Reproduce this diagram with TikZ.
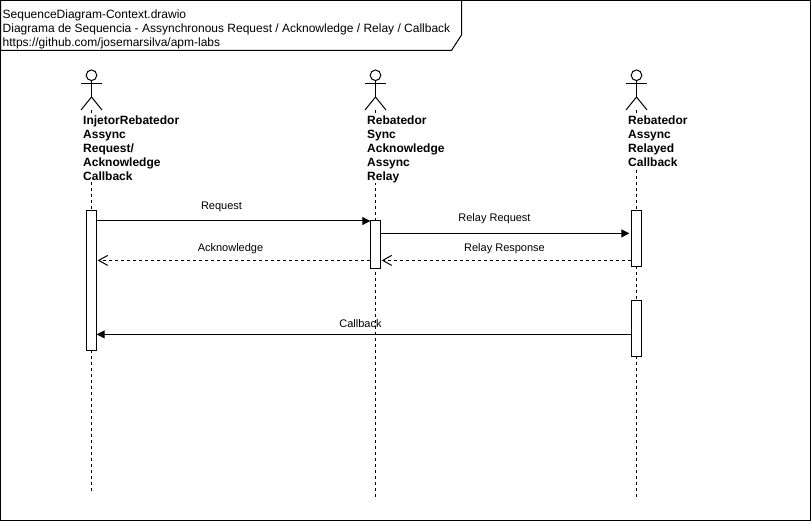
\documentclass[tikz,border=0pt]{standalone}
\usepackage{fontspec}
\setmainfont{Liberation Sans}
\usetikzlibrary{arrows.meta}
\tikzset{
  x=1pt,y=-1pt,
  line/.style={draw=black,line width=1pt},
  activation/.style={draw=black,fill=white,line width=1pt,minimum width=10.4pt,inner sep=0pt,outer sep=0pt,anchor=north},
  lifeline/.style={draw=black,line width=1pt,dash pattern=on 3pt off 3pt},
  sync/.style={draw=black,line width=1pt,-{Triangle[length=8pt,width=8pt]}},
  reply/.style={draw=black,line width=1pt,dash pattern=on 3pt off 3pt,-{Straight Barb[length=9pt,width=10pt,line width=1pt]},shorten >=1pt},
  msg/.style={font=\fontsize{11}{13}\selectfont,inner sep=0pt},
  role/.style={font=\fontsize{12}{14}\selectfont\bfseries,align=left,anchor=north west,inner sep=0pt},
  titletext/.style={font=\fontsize{12}{14}\selectfont,align=left,anchor=north west,inner sep=0pt}
}
\newcommand{\stickman}[1]{%
  \draw[line] (#1,75.3) circle (5.3);
  \draw[line] (#1,80.5) -- (#1,97);
  \draw[line] (#1-10.5,83.7) -- (#1+10.5,83.7);
  \draw[line] (#1-10.5,110) -- (#1,97) -- (#1+10.5,110);
}
\begin{document}
\begin{tikzpicture}
\useasboundingbox (0,0) rectangle (811,521);
\fill[white] (0,0) rectangle (811,521);
\draw[line] (0.7,0.5) rectangle (810.5,520);
\draw[line] (0.7,0.5) -- (461.5,0.5) -- (461.5,35) -- (451.5,50.4) -- (0.7,50.4) -- cycle;
\node[titletext] (title) at (2.5,10) {SequenceDiagram-Context.drawio\\Diagrama de Sequencia - Assynchronous Request / Acknowledge / Relay / Callback\\https://github.com/josemarsilva/apm-labs};

% lifelines
\coordinate (ta) at (91.5,110); \coordinate (ba) at (91.5,491.5);
\coordinate (tb) at (375.5,110); \coordinate (bb) at (375.5,497);
\coordinate (tc) at (636.5,110); \coordinate (bc) at (636.5,497);
\draw[lifeline] (ta) -- (ba);
\draw[lifeline] (tb) -- (bb);
\draw[lifeline] (tc) -- (bc);

\stickman{91.5}
\stickman{375.5}
\stickman{636.5}

\node[role,fill=white] (la) at (83,115.5) {InjetorRebatedor\\Assync\\Request/\\Acknowledge\\Callback};
\node[role,fill=white] (lb) at (367,115.5) {Rebatedor\\Sync\\Acknowledge\\Assync\\Relay};
\node[role,fill=white] (lc) at (628,115.5) {Rebatedor\\Assync\\Relayed\\Callback};

% activations
\node[activation,minimum height=140pt] (a1) at (91.5,210.3) {};
\node[activation,minimum height=48pt] (b1) at (375.5,220.3) {};
\node[activation,minimum height=56pt] (c1) at (636.5,210.3) {};
\node[activation,minimum height=56pt] (c2) at (636.5,300.3) {};

% messages
\draw[sync] (a1.east |- 0,221) -- (b1.west |- 0,221);
\draw[sync] (b1.east |- 0,233.4) -- ([xshift=-2pt]c1.west |- 0,233.4);
\draw[reply] (b1.west |- 0,260.4) -- (a1.east |- 0,260.4);
\draw[reply] (c1.west |- 0,260.4) -- (b1.east |- 0,260.4);
\draw[sync] (c2.west |- 0,334.4) -- (a1.east |- 0,334.4);

\node[msg] (m1) at (221.5,207) {Request};
\node[msg] (m2) at (494.5,219) {Relay Request};
\node[msg] (m3) at (230.5,249) {Acknowledge};
\node[msg] (m4) at (504.5,249) {Relay Response};
\node[msg] (m5) at (360.5,324) {Callback};
\end{tikzpicture}
\end{document}
